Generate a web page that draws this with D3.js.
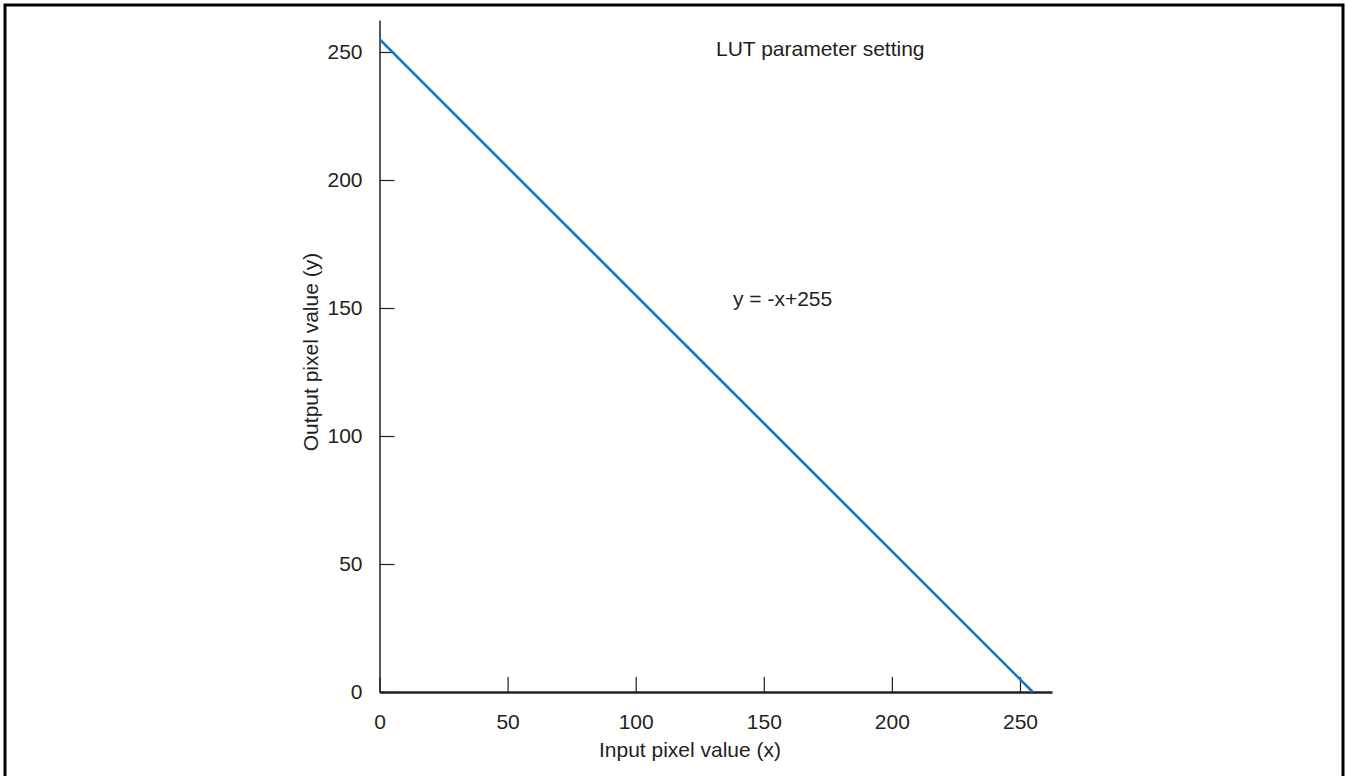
<!DOCTYPE html>
<html>
<head>
<meta charset="utf-8">
<script src="https://cdn.jsdelivr.net/npm/d3@7"></script>
<style>
  html, body { margin: 0; padding: 0; background: #fff; }
  svg { display: block; }
  text { font-family: "Liberation Sans", Arial, sans-serif; fill: #231f20; }
</style>
</head>
<body>
<svg id="chart" width="1346" height="776"></svg>
<script>
// LUT curve: y = -x + 255 over the 8-bit input range
const inputValues = [0, 255];
const outputValues = [255, 0];
const xTickValues = [0, 50, 100, 150, 200, 250];
const yTickValues = [0, 50, 100, 150, 200, 250];
const chartTitle = "LUT parameter setting";
const equationLabel = "y = -x+255";
const xAxisTitle = "Input pixel value (x)";
const yAxisTitle = "Output pixel value (y)";

const FONT = "Liberation Sans, Arial, sans-serif";
const FS = 21;

const svg = d3.select("#chart");

// frame around the figure
svg.append("path")
  .attr("d", "M5,776 V5 H1343 V776")
  .attr("fill", "none")
  .attr("stroke", "#000")
  .attr("stroke-width", 3);

const x = d3.scaleLinear().domain([0, 262.5]).range([379.5, 1052]);
const y = d3.scaleLinear().domain([0, 262.5]).range([692, 20]);

// x axis: ticks point up into the plot
const xAxis = svg.append("g")
  .attr("transform", `translate(0,${y(0)})`)
  .call(d3.axisBottom(x).tickValues(xTickValues).tickSize(-15).tickSizeOuter(0).tickPadding(32))
  .attr("font-size", FS)
  .attr("font-family", FONT);
xAxis.select(".domain").attr("stroke", "#231f20").attr("stroke-width", 2.5);
xAxis.selectAll(".tick line").attr("stroke", "#231f20").attr("stroke-width", 1.2);
xAxis.selectAll(".tick text").attr("fill", "#231f20").attr("dy", null).attr("y", 37);

// y axis: ticks point right into the plot
const yAxis = svg.append("g")
  .attr("transform", `translate(${x(0)},0)`)
  .call(d3.axisLeft(y).tickValues(yTickValues).tickSize(-15).tickSizeOuter(0).tickPadding(17))
  .attr("font-size", FS)
  .attr("font-family", FONT);
yAxis.select(".domain").attr("stroke", "#231f20").attr("stroke-width", 1.5);
yAxis.selectAll(".tick line").attr("stroke", "#231f20").attr("stroke-width", 1.2);
yAxis.selectAll(".tick text").attr("fill", "#231f20");

// mapping line
const pts = inputValues.map((v, i) => [v, outputValues[i]]);
svg.append("path")
  .datum(pts)
  .attr("d", d3.line().x(d => x(d[0])).y(d => y(d[1])))
  .attr("fill", "none")
  .attr("stroke", "#1b75bc")
  .attr("stroke-width", 2.6);

// texts
svg.append("text")
  .attr("x", 716).attr("y", 56)
  .attr("font-size", FS)
  .text(chartTitle);

svg.append("text")
  .attr("x", 733).attr("y", 306)
  .attr("font-size", FS)
  .text(equationLabel);

svg.append("text")
  .attr("x", 690).attr("y", 757)
  .attr("text-anchor", "middle")
  .attr("font-size", FS)
  .text(xAxisTitle);

svg.append("text")
  .attr("transform", "translate(318,352) rotate(-90)")
  .attr("text-anchor", "middle")
  .attr("font-size", FS)
  .text(yAxisTitle);
</script>
</body>
</html>
